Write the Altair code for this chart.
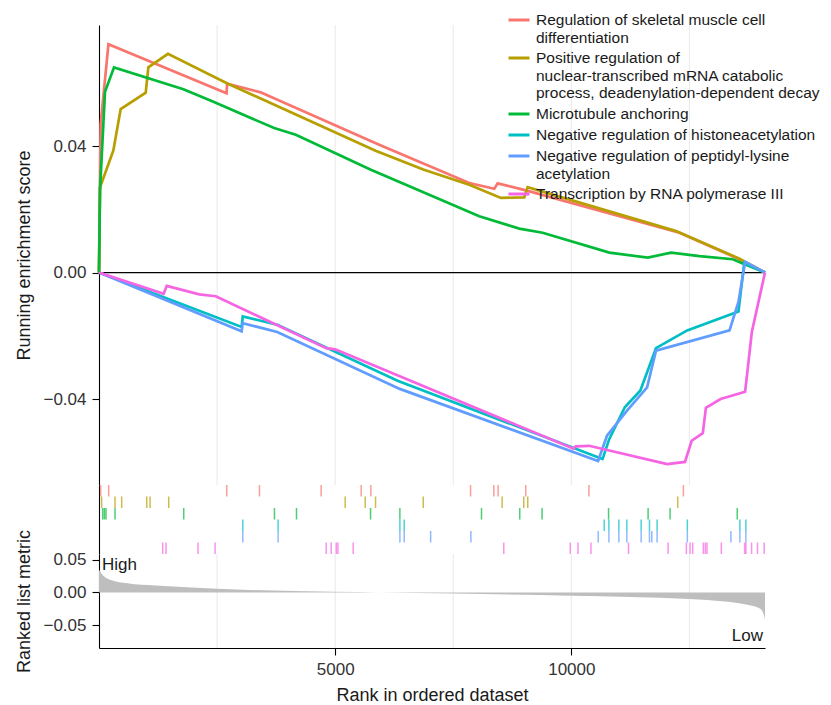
import altair as alt
import pandas as pd

N_GENES = 14100

SET_NAMES = [
    "Regulation of skeletal muscle cell differentiation",
    "Positive regulation of nuclear-transcribed mRNA catabolic process, deadenylation-dependent decay",
    "Microtubule anchoring",
    "Negative regulation of histoneacetylation",
    "Negative regulation of peptidyl-lysine acetylation",
    "Transcription by RNA polymerase III",
]
LEGEND_LINES = [
    ["Regulation of skeletal muscle cell", "differentiation"],
    ["Positive regulation of", "nuclear-transcribed mRNA catabolic", "process, deadenylation-dependent decay"],
    ["Microtubule anchoring"],
    ["Negative regulation of histoneacetylation"],
    ["Negative regulation of peptidyl-lysine", "acetylation"],
    ["Transcription by RNA polymerase III"],
]
SET_COLORS = ["#F8766D", "#B79F00", "#00BA38", "#00BFC4", "#619CFF", "#F564E3"]

# running enrichment score curves (rank, score)
RED_RANK = [0, 35, 200, 2700, 2712, 3420, 5932, 7839, 8369, 8440, 9039, 12288, 13559, 14100]
RED_ES = [0, 0.047, 0.0722, 0.0567, 0.0597, 0.0570, 0.0404, 0.0283, 0.0265, 0.0282, 0.0260, 0.0126, 0.0042, 0]

GOLD_RANK = [0, 21, 304, 459, 989, 1045, 1460, 2719, 5856, 6865, 7839, 8509, 9004, 9075, 12218, 13559, 14100]
GOLD_ES = [0, 0.0269, 0.0386, 0.0517, 0.0569, 0.0649, 0.0692, 0.0598, 0.0385, 0.0326, 0.0278, 0.0236, 0.0238, 0.0270, 0.0131, 0.0044, 0]

GREEN_RANK = [0, 21, 127, 318, 1787, 2422, 3708, 4167, 5756, 8051, 8898, 9392, 10805, 11617, 12111, 12712, 13418, 13630, 14100]
GREEN_ES = [0, 0.026, 0.0572, 0.0649, 0.0580, 0.0540, 0.0457, 0.0436, 0.0325, 0.0178, 0.0139, 0.0126, 0.0063, 0.0047, 0.0063, 0.0052, 0.0042, 0.0029, 0]

CYAN_RANK = [0, 3019, 3044, 3774, 6321, 10660, 10802, 11132, 11462, 11792, 12453, 13538, 13660, 14100]
CYAN_ES = [0, -0.0172, -0.0139, -0.0165, -0.0342, -0.0590, -0.0527, -0.0426, -0.0373, -0.0239, -0.0183, -0.0123, 0.0030, 0]

BLUE_RANK = [0, 3019, 3044, 3774, 6368, 10566, 10755, 11179, 11604, 11792, 13349, 13538, 13679, 14100]
BLUE_ES = [0, -0.0186, -0.0160, -0.0188, -0.0368, -0.0596, -0.0516, -0.0437, -0.0363, -0.0247, -0.0183, -0.0093, 0.0034, 0]

PINK_RANK = [0, 1368, 1434, 2123, 2472, 4811, 5000, 10047, 10094, 10377, 12028, 12406, 12547, 12783,
             12849, 13160, 13679, 13726, 13821, 14100]
PINK_ES = [0, -0.0067, -0.0042, -0.0069, -0.0075, -0.0239, -0.0243, -0.0557, -0.0550, -0.0548, -0.0606,
           -0.0599, -0.0532, -0.0508, -0.0428, -0.0400, -0.0377, -0.0315, -0.0188, 0]

# hit positions
RED_HITS = [35, 205, 2705, 3397, 4703, 5551, 5756, 7866, 8359, 8450, 9035, 10372, 12372]
GOLD_HITS = [56, 339, 480, 1010, 1081, 1476, 5212, 5636, 5855, 6865, 8535, 8992, 9077, 12252]
GREEN_HITS = [78, 113, 148, 339, 1794, 3715, 4181, 5749, 6370, 8098, 8908, 9380, 10788, 11625, 12090, 13512]
CYAN_HITS = [3044, 3792, 6370, 6462, 10696, 10795, 11006, 11175, 11478, 11654, 11816, 12456, 13568, 13695]
BLUE_HITS = [3044, 3792, 6370, 6462, 7021, 7873, 10569, 10795, 11006, 11175, 11478, 11654, 11703, 11816,
             12456, 13378, 13568, 13695]
PINK_HITS = [1349, 1419, 2097, 2458, 4810, 4916, 5022, 5057, 5381, 8570, 9978, 10140, 10415, 11210, 12048,
             12435, 12513, 12569, 12794, 12836, 12872, 13175, 13668, 13696, 13816, 13942, 14083]

# ranked list metric
MET_RANK = [0, 40, 250, 600, 1200, 2500, 5000, 5900, 7500, 10000, 12500, 13250, 13700, 14000, 14080, 14100]
MET_VAL = [0.035, 0.030, 0.019, 0.014, 0.0105, 0.0055, 0.001, 0.0, -0.0018, -0.005, -0.010, -0.014,
           -0.0185, -0.025, -0.035, -0.041]

GRID_X = [2500, 5000, 7500, 10000, 12500]
X_TICKS = [5000, 10000]
ES_TICKS = [-0.04, 0.0, 0.04]
MET_TICKS = [-0.05, 0.0, 0.05]
ANNOT_HIGH = ("High", 0, 0.0415)
ANNOT_LOW = ("Low", 14100, -0.066)

FONT = "Liberation Sans"

curve_ranks = [RED_RANK, GOLD_RANK, GREEN_RANK, CYAN_RANK, BLUE_RANK, PINK_RANK]
curve_es = [RED_ES, GOLD_ES, GREEN_ES, CYAN_ES, BLUE_ES, PINK_ES]
hits = [RED_HITS, GOLD_HITS, GREEN_HITS, CYAN_HITS, BLUE_HITS, PINK_HITS]

rows = []
for name, rk, es in zip(SET_NAMES, curve_ranks, curve_es):
    for i, (r, e) in enumerate(zip(rk, es)):
        rows.append({"set": name, "rank": r, "es": e, "idx": i})
curve_df = pd.DataFrame(rows)

hit_rows = []
for name, hs in zip(SET_NAMES, hits):
    for h in hs:
        hit_rows.append({"set": name, "rank": h})
hit_df = pd.DataFrame(hit_rows)

met_df = pd.DataFrame({"rank": MET_RANK, "metric": MET_VAL})
grid_df = pd.DataFrame({"g": GRID_X})

# legend label expression (multi-line)
expr = "datum.label"
for name, lines in reversed(list(zip(SET_NAMES, LEGEND_LINES))):
    arr = "[" + ",".join("'" + l + "'" for l in lines) + "]"
    expr = f"datum.label == '{name}' ? {arr} : ({expr})"

WIDTH = 666
xs = alt.Scale(domain=[0, N_GENES], nice=False, zero=False)
es_scale = alt.Scale(domain=[-0.0672, 0.0783], nice=False, zero=False)
met_scale = alt.Scale(domain=[-0.0846, 0.0585], nice=False, zero=False)
color_scale = alt.Scale(domain=SET_NAMES, range=SET_COLORS)

ES_AXIS = alt.Axis(values=ES_TICKS, format=".2f", title="Running enrichment score", grid=False)
X_AXIS = alt.Axis(values=X_TICKS, format="d", title="Rank in ordered dataset", grid=False)
MET_AXIS = alt.Axis(values=MET_TICKS, format=".2f", title="Ranked list metric", grid=False)

# ---- top panel
grid_top = alt.Chart(grid_df).mark_rule(color="#EBEBEB", strokeWidth=1.1).encode(
    x=alt.X("g:Q", scale=xs, axis=None)
)
zero_line = alt.Chart(pd.DataFrame({"z": [0.0]})).mark_rule(color="black", strokeWidth=1.3).encode(
    y=alt.Y("z:Q", scale=es_scale, axis=ES_AXIS)
)
lines = alt.Chart(curve_df).mark_line(strokeWidth=2.7).encode(
    x=alt.X("rank:Q", scale=xs, axis=None),
    y=alt.Y("es:Q", scale=es_scale, axis=ES_AXIS),
    color=alt.Color("set:N", scale=color_scale,
                    legend=alt.Legend(title=None, orient="none", legendX=408, legendY=-17,
                                      symbolType="stroke", symbolStrokeWidth=3, symbolSize=440,
                                      labelFont=FONT, labelFontSize=15.5, labelColor="#1a1a1a",
                                      labelLimit=0, labelExpr=expr, labelOffset=5, rowPadding=0,
                                      padding=0)),
    order=alt.Order("idx:Q"),
)
top = alt.layer(grid_top, zero_line, lines).properties(width=WIDTH, height=460)

# ---- middle panel (hits)
ticks = alt.Chart(hit_df).mark_tick(thickness=1.5, size=11.5).encode(
    x=alt.X("rank:Q", scale=xs, axis=None),
    y=alt.Y("set:N", scale=alt.Scale(domain=SET_NAMES, paddingInner=0, paddingOuter=0),
            axis=alt.Axis(labels=False, ticks=False, title=None, grid=False)),
    color=alt.Color("set:N", scale=color_scale, legend=None),
)
mid = ticks.properties(width=WIDTH, height=69)

# ---- bottom panel (ranked metric)
grid_bot = alt.Chart(grid_df).mark_rule(color="#EBEBEB", strokeWidth=1.1).encode(
    x=alt.X("g:Q", scale=xs, axis=X_AXIS)
)
area = alt.Chart(met_df).mark_area(color="#BEBEBE", interpolate="monotone").encode(
    x=alt.X("rank:Q", scale=xs, axis=X_AXIS),
    y=alt.Y("metric:Q", scale=met_scale, axis=MET_AXIS),
    y2=alt.datum(0),
)
high_df = pd.DataFrame({"t": [ANNOT_HIGH[0]], "x": [ANNOT_HIGH[1]], "y": [ANNOT_HIGH[2]]})
low_df = pd.DataFrame({"t": [ANNOT_LOW[0]], "x": [ANNOT_LOW[1]], "y": [ANNOT_LOW[2]]})
high_txt = alt.Chart(high_df).mark_text(align="left", baseline="middle", dx=3, font=FONT, fontSize=17,
                                        color="#1a1a1a").encode(
    x=alt.X("x:Q", scale=xs, axis=X_AXIS), y=alt.Y("y:Q", scale=met_scale, axis=MET_AXIS), text="t:N")
low_txt = alt.Chart(low_df).mark_text(align="right", baseline="middle", dx=-2, font=FONT, fontSize=17,
                                      color="#1a1a1a").encode(
    x=alt.X("x:Q", scale=xs, axis=X_AXIS), y=alt.Y("y:Q", scale=met_scale, axis=MET_AXIS), text="t:N")
bot = alt.layer(grid_bot, area, high_txt, low_txt).properties(width=WIDTH, height=94)

chart = alt.vconcat(top, mid, bot, spacing=0, bounds="flush").resolve_scale(color="independent").properties(
    padding={"left": 7, "top": 0, "right": 0, "bottom": 2}
).configure_view(strokeWidth=0).configure_axis(
    labelFont=FONT, labelFontSize=17, labelColor="#333333",
    titleFont=FONT, titleFontSize=18, titleFontWeight="normal", titleColor="#1a1a1a",
    domainColor="black", domainWidth=1.1, tickColor="black", tickWidth=1.1,
    tickSize=7, labelPadding=6, titlePadding=9,
)

chart.save("out.html", embed_options={"renderer": "svg", "actions": False})
